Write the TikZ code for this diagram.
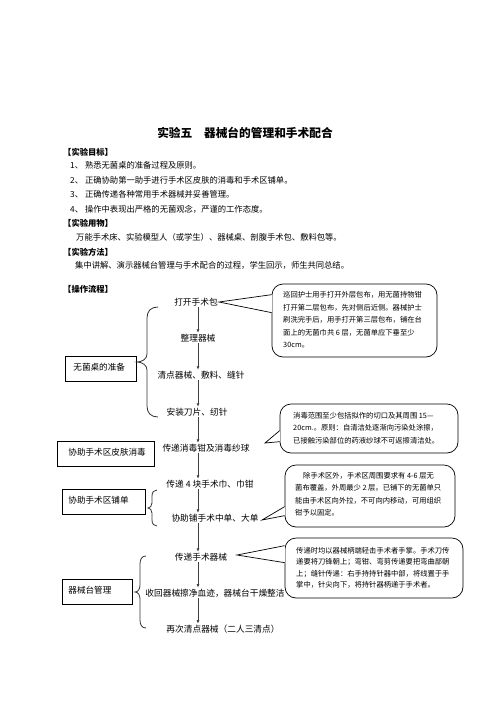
\documentclass[tikz,border=0pt]{standalone}
\usepackage{fontspec}
\setmainfont{Noto Sans CJK SC}
\usetikzlibrary{arrows.meta,calc}
\begin{document}
\begin{tikzpicture}[x=1pt,y=-1pt,
  body/.style={anchor=west, inner sep=0pt, font=\fontsize{8.3}{10}\selectfont},
  head/.style={anchor=west, inner sep=0pt, font=\bfseries\fontsize{8.3}{10}\selectfont},
  flow/.style={inner sep=1pt, font=\fontsize{8.7}{10}\selectfont},
  lbox/.style={draw, line width=0.8pt, anchor=north west, minimum height=25pt, align=left,
               text height=7pt, text depth=4pt, font=\fontsize{8.6}{10}\selectfont},
  callout/.style={draw, line width=0.7pt, rounded corners=11pt, fill=white, inner sep=0pt},
  ctext/.style={anchor=west, align=left, inner sep=0pt, font=\fontsize{7.3}{12.5}\selectfont},
  arr/.style={draw=black!75, line width=0.9pt, -{Latex[length=3.5pt,width=3pt]}},
  bracestyle/.style={line width=0.8pt, black!80}]
\useasboundingbox (0,0) rectangle (496,702);

% ---- header ----
\node[font=\bfseries\fontsize{11.7}{14}\selectfont] (title) at (245,133) {实验五\hspace{11.7pt}器械台的管理和手术配合};
\node[head] (h1) at (63,152) {【实验目标】};
\node[body] (l1) at (70,165) {1、\hspace{2pt}熟悉无菌桌的准备过程及原则。};
\node[body] (l2) at (70,180) {2、\hspace{2pt}正确协助第一助手进行手术区皮肤的消毒和手术区铺单。};
\node[body] (l3) at (70,194.5) {3、\hspace{2pt}正确传递各种常用手术器械并妥善管理。};
\node[body] (l4) at (70,209) {4、\hspace{2pt}操作中表现出严格的无菌观念，严谨的工作态度。};
\node[head] (h2) at (63,223.5) {【实验用物】};
\node[body] (l5) at (76,237) {万能手术床、实验模型人（或学生）、器械桌、剖腹手术包、敷料包等。};
\node[head] (h3) at (63,252) {【实验方法】};
\node[body] (l6) at (75,265) {集中讲解、演示器械台管理与手术配合的过程，学生回示，师生共同总结。};
\node[head] (h4) at (63,289) {【操作流程】};

% ---- flow ----
\coordinate (ax) at (198,0);
\node[flow] (n1) at (196,302) {打开手术包};
\node[flow] (n2) at (198,338) {整理器械};
\node[flow] (n3) at (201,375) {清点器械、敷料、缝针};
\node[flow] (n4) at (197,412) {安装刀片、纫针};
\node[flow] (n5) at (206,448) {传递消毒钳及消毒纱球};
\node[flow] (n6) at (210,484) {传递 4 块手术巾、巾钳};
\node[flow] (n7) at (215,518) {协助铺手术中单、大单};
\node[flow] (n8) at (201,557) {传递手术器械};
\node[flow] (n9) at (215,593) {收回器械擦净血迹，器械台干燥整洁};
\node[flow] (n10) at (223,629) {再次清点器械（二人三清点）};

\foreach \a/\b in {n1/n2,n2/n3,n3/n4,n4/n5,n5/n6,n6/n7,n7/n8,n8/n9,n9/n10}
  \draw[arr] (\a.south -| ax) -- (\b.north -| ax);

% ---- left boxes ----
\node[lbox, text width=55pt, inner xsep=8pt] (b1) at (65,356) {无菌桌的准备};
\node[lbox, text width=75pt, inner xsep=11pt] (b2) at (57,441) {协助手术区皮肤消毒};
\node[lbox, text width=71pt, inner xsep=6pt] (b3) at (62,489) {协助手术区铺单};
\node[lbox, text width=58pt, inner xsep=6pt] (b4) at (62,579) {器械台管理};

% ---- braces ----
\draw[bracestyle] (158,307) .. controls (151,307) and (147,311) .. (147,318) -- (147,354)
  .. controls (147,359) and (142,362) .. (137,362) .. controls (142,362) and (147,365) .. (147,370)
  -- (147,406) .. controls (147,413) and (151,417) .. (158,417);
\draw[bracestyle] (157,490) .. controls (154,490) and (152,492) .. (152,496) -- (152,503)
  .. controls (152,506) and (150,508) .. (148,508) .. controls (150,508) and (152,510) .. (152,513)
  -- (152,520) .. controls (152,524) and (154,526) .. (157,526);
\draw[bracestyle] (146,556) .. controls (142,556) and (140,559) .. (140,564) -- (140,585)
  .. controls (140,589) and (138,592) .. (135,592) .. controls (138,592) and (140,595) .. (140,599)
  -- (140,620) .. controls (140,625) and (142,628) .. (146,628);

% ---- callouts ----
\node[callout, minimum width=165pt, minimum height=73pt] (c1) at (354.5,320.5) {};
\node[callout, minimum width=178pt, minimum height=49pt] (c2) at (369,428.5) {};
\node[callout, minimum width=170pt, minimum height=62pt] (c3) at (370,496) {};
\node[callout, minimum width=178pt, minimum height=60pt] (c4) at (374,568) {};

\coordinate (t1) at ($(n1.east)+(0,0)$);
\coordinate (t2) at (265,443);
\coordinate (t3) at (262,520);
\coordinate (t4) at (237,555);
\coordinate (c1a) at ($(c1.north west)+(0,11)$);
\coordinate (c1b) at ($(c1.north west)+(0,29)$);
\coordinate (c2a) at ($(c2.north west)+(0,27)$);
\coordinate (c2b) at ($(c2.north west)+(0,38)$);
\coordinate (c3a) at ($(c3.north west)+(0,42)$);
\coordinate (c3b) at ($(c3.north west)+(0,51)$);
\coordinate (c4a) at ($(c4.north west)+(0,8)$);
\coordinate (c4b) at ($(c4.north west)+(0,25)$);

\foreach \t/\a/\b in {t1/c1a/c1b,t2/c2a/c2b,t3/c3a/c3b,t4/c4a/c4b}{
  \fill[white] (\t) -- (\a) -- (\b) -- cycle;
  \fill[white] ($(\a)+(-0.8,0.4)$) rectangle ($(\b)+(0.8,-0.4)$);
  \draw[line width=0.7pt, line join=miter] (\a) -- (\t) -- (\b);
}

\node[ctext] (c1t) at (283,320) {巡回护士用手打开外层包布，用无菌持物钳\\打开第二层包布，先对侧后近侧。器械护士\\刷洗完手后，用手打开第三层包布，铺在台\\面上的无菌巾共 6 层，无菌单应下垂至少\\30cm。};
\node[ctext] (c2t) at (293,428) {消毒范围至少包括拟作的切口及其周围 15—\\20cm.。原则：自清洁处逐渐向污染处涂擦，\\已接触污染部位的药液纱球不可返擦清洁处。};
\node[ctext] (c3t) at (295,494) {\hspace*{8pt}除手术区外，手术区周围要求有 4-6 层无\\菌布覆盖，外周最少 2 层。已铺下的无菌单只\\能由手术区向外拉，不可向内移动，可用组织\\钳予以固定。};
\node[ctext, font=\fontsize{7.3}{11.5}\selectfont] (c4t) at (296,568) {传递时均以器械柄端轻击手术者手掌。手术刀传\\递要将刀锋朝上；弯钳、弯剪传递要把弯曲部朝\\上；缝针传递：右手持持针器中部，将线置于手\\掌中，针尖向下，将持针器柄递于手术者。};
\end{tikzpicture}
\end{document}
